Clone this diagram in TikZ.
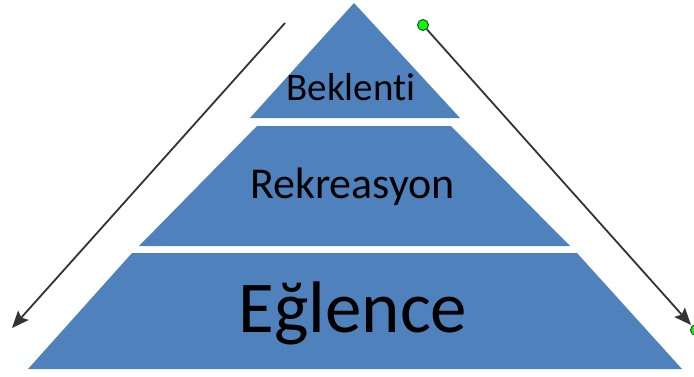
\documentclass[tikz,border=0pt]{standalone}
\usepackage{fontspec}
\setmainfont{Carlito}[Ligatures=NoCommon]
\usetikzlibrary{arrows.meta}
\definecolor{tierblue}{HTML}{4F81BD}
\definecolor{handle}{HTML}{00FF00}
\tikzset{
  tier/.style={fill=tierblue, draw=none},
  label/.style={anchor=base, text=black, inner sep=0pt},
  connector/.style={draw=black!80, line width=1.8pt,
    -{Stealth[length=17pt,width=14pt,inset=3pt]}},
  handledot/.style={circle, fill=handle, draw=black!80, line width=0.9pt,
    minimum size=11pt, inner sep=0pt}
}
\begin{document}
\begin{tikzpicture}[x=1pt,y=-1pt]
  \useasboundingbox (0,0) rectangle (694,376);
  % three stacked tiers of the pyramid
  \fill[tier] (354,3) -- (460,118) -- (250,118) -- cycle;
  \fill[tier] (257,126) -- (451,126) -- (570,246) -- (139,246) -- cycle;
  \fill[tier] (132,253) -- (577,253) -- (682,369) -- (28,369) -- cycle;
  % tier labels
  \node[label, font=\fontsize{39}{44}\selectfont] (top) at (351,100) {Beklenti};
  \node[label, font=\fontsize{44}{50}\selectfont] (mid) at (352.5,198) {Rekreasyon};
  \node[label, font=\fontsize{73}{80}\selectfont] (base) at (353,332) {Eğlence};
  % left connector
  \coordinate (lstart) at (285,23);
  \coordinate (lend) at (12,328);
  \draw[connector] (lstart) -- (lend);
  % right connector with selection handles
  \coordinate (rend) at (691,325);
  \node[handledot] (rstart) at (423,25) {};
  \draw[connector] (rstart) -- (rend);
  \node[handledot] (rhandle) at (696,330) {};
\end{tikzpicture}
\end{document}
